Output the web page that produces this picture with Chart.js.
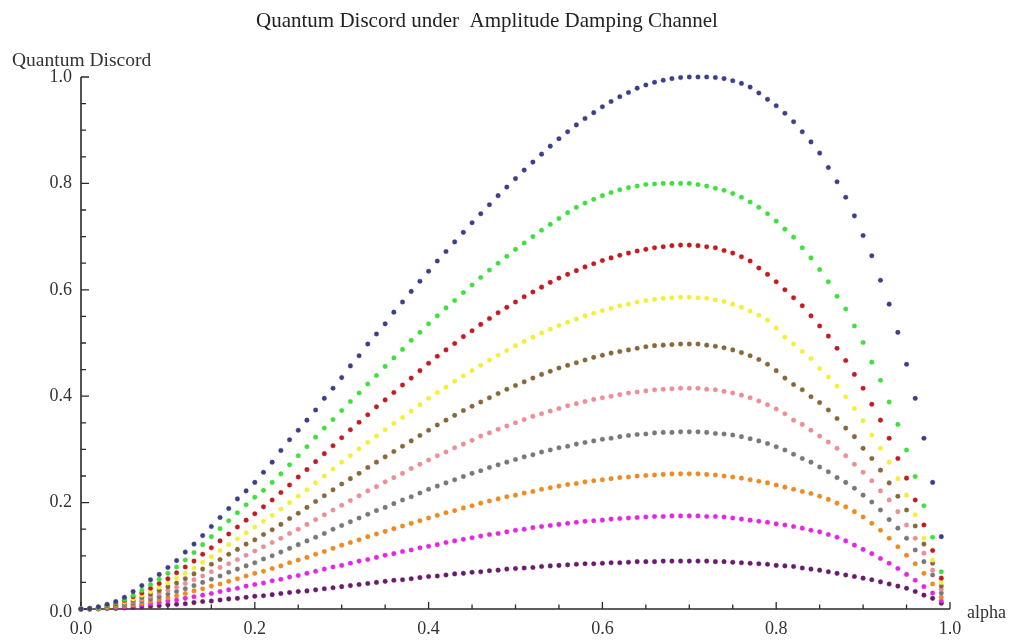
<!DOCTYPE html>
<html>
<head>
<meta charset="utf-8">
<title>Quantum Discord under Amplitude Damping Channel</title>
<script src="https://cdn.jsdelivr.net/npm/chart.js@4.4.0/dist/chart.umd.min.js"></script>
<style>
  body { margin: 0; background: #ffffff; }
  #wrap { width: 1012px; height: 640px; }
</style>
</head>
<body>
<div id="wrap"><canvas id="discordChart" width="1012" height="640"></canvas></div>
<script>
// alpha values (x) shared by every series
const alphas = [
  0.00, 0.01, 0.02, 0.03, 0.04, 0.05, 0.06, 0.07, 0.08, 0.09,
  0.10, 0.11, 0.12, 0.13, 0.14, 0.15, 0.16, 0.17, 0.18, 0.19,
  0.20, 0.21, 0.22, 0.23, 0.24, 0.25, 0.26, 0.27, 0.28, 0.29,
  0.30, 0.31, 0.32, 0.33, 0.34, 0.35, 0.36, 0.37, 0.38, 0.39,
  0.40, 0.41, 0.42, 0.43, 0.44, 0.45, 0.46, 0.47, 0.48, 0.49,
  0.50, 0.51, 0.52, 0.53, 0.54, 0.55, 0.56, 0.57, 0.58, 0.59,
  0.60, 0.61, 0.62, 0.63, 0.64, 0.65, 0.66, 0.67, 0.68, 0.69,
  0.70, 0.71, 0.72, 0.73, 0.74, 0.75, 0.76, 0.77, 0.78, 0.79,
  0.80, 0.81, 0.82, 0.83, 0.84, 0.85, 0.86, 0.87, 0.88, 0.89,
  0.90, 0.91, 0.92, 0.93, 0.94, 0.95, 0.96, 0.97, 0.98, 0.99
];

// discord values, one list per curve (top to bottom)
const blueVals = [
  0, 0.001, 0.004, 0.009, 0.014, 0.022, 0.033, 0.044, 0.055, 0.065,
  0.078, 0.091, 0.107, 0.122, 0.138, 0.155, 0.172, 0.189, 0.207, 0.222,
  0.238, 0.257, 0.276, 0.298, 0.318, 0.336, 0.355, 0.374, 0.396, 0.415,
  0.435, 0.457, 0.476, 0.498, 0.517, 0.536, 0.558, 0.577, 0.597, 0.616,
  0.635, 0.654, 0.672, 0.690, 0.708, 0.726, 0.743, 0.760, 0.777, 0.793,
  0.809, 0.825, 0.840, 0.855, 0.870, 0.884, 0.897, 0.910, 0.922, 0.933,
  0.944, 0.954, 0.963, 0.971, 0.979, 0.985, 0.990, 0.994, 0.997, 0.999,
  1.000, 1.000, 1.000, 0.999, 0.997, 0.993, 0.988, 0.981, 0.970, 0.958,
  0.946, 0.932, 0.916, 0.897, 0.878, 0.857, 0.830, 0.803, 0.774, 0.739,
  0.702, 0.664, 0.618, 0.573, 0.520, 0.460, 0.396, 0.321, 0.238, 0.136
];
const greenVals = [
  0, 0.001, 0.003, 0.007, 0.012, 0.018, 0.026, 0.035, 0.046, 0.056,
  0.067, 0.079, 0.092, 0.106, 0.121, 0.136, 0.151, 0.166, 0.181, 0.196,
  0.210, 0.223, 0.238, 0.254, 0.271, 0.288, 0.305, 0.323, 0.340, 0.356,
  0.373, 0.390, 0.406, 0.423, 0.439, 0.456, 0.472, 0.488, 0.505, 0.520,
  0.536, 0.551, 0.566, 0.580, 0.595, 0.609, 0.623, 0.637, 0.650, 0.663,
  0.676, 0.688, 0.700, 0.712, 0.723, 0.734, 0.745, 0.755, 0.763, 0.770,
  0.777, 0.783, 0.788, 0.792, 0.795, 0.798, 0.799, 0.800, 0.800, 0.800,
  0.800, 0.798, 0.795, 0.791, 0.787, 0.781, 0.774, 0.765, 0.755, 0.743,
  0.729, 0.714, 0.699, 0.679, 0.660, 0.638, 0.615, 0.588, 0.564, 0.532,
  0.501, 0.464, 0.430, 0.389, 0.347, 0.299, 0.249, 0.194, 0.135, 0.070
];
const redVals = [
  0, 0.001, 0.003, 0.006, 0.010, 0.016, 0.023, 0.030, 0.039, 0.048,
  0.057, 0.068, 0.079, 0.090, 0.103, 0.115, 0.128, 0.141, 0.154, 0.167,
  0.179, 0.192, 0.205, 0.219, 0.233, 0.248, 0.262, 0.277, 0.292, 0.307,
  0.322, 0.337, 0.351, 0.365, 0.380, 0.393, 0.407, 0.421, 0.434, 0.448,
  0.462, 0.475, 0.487, 0.499, 0.512, 0.523, 0.535, 0.546, 0.557, 0.567,
  0.577, 0.587, 0.596, 0.605, 0.614, 0.622, 0.629, 0.636, 0.643, 0.649,
  0.655, 0.660, 0.665, 0.669, 0.673, 0.676, 0.679, 0.681, 0.683, 0.684,
  0.684, 0.683, 0.681, 0.679, 0.674, 0.669, 0.662, 0.654, 0.641, 0.629,
  0.615, 0.600, 0.585, 0.570, 0.551, 0.532, 0.513, 0.490, 0.467, 0.441,
  0.415, 0.385, 0.355, 0.321, 0.283, 0.246, 0.205, 0.158, 0.110, 0.058
];
const yellowVals = [
  0, 0.001, 0.002, 0.005, 0.009, 0.013, 0.019, 0.026, 0.033, 0.041,
  0.049, 0.058, 0.067, 0.077, 0.088, 0.098, 0.110, 0.121, 0.132, 0.143,
  0.154, 0.165, 0.176, 0.188, 0.200, 0.212, 0.224, 0.237, 0.250, 0.263,
  0.276, 0.288, 0.301, 0.313, 0.325, 0.337, 0.349, 0.360, 0.372, 0.384,
  0.396, 0.407, 0.417, 0.428, 0.438, 0.448, 0.458, 0.468, 0.477, 0.486,
  0.495, 0.503, 0.511, 0.519, 0.526, 0.533, 0.539, 0.545, 0.551, 0.556,
  0.561, 0.565, 0.570, 0.573, 0.577, 0.580, 0.582, 0.584, 0.585, 0.586,
  0.586, 0.585, 0.584, 0.581, 0.578, 0.573, 0.567, 0.560, 0.552, 0.543,
  0.528, 0.511, 0.498, 0.484, 0.471, 0.452, 0.436, 0.419, 0.399, 0.377,
  0.354, 0.327, 0.302, 0.276, 0.245, 0.214, 0.177, 0.133, 0.092, 0.050
];
const brownVals = [
  0, 0.000, 0.002, 0.004, 0.007, 0.011, 0.016, 0.022, 0.028, 0.035,
  0.042, 0.049, 0.057, 0.066, 0.075, 0.084, 0.093, 0.103, 0.112, 0.122,
  0.130, 0.140, 0.149, 0.159, 0.170, 0.180, 0.191, 0.202, 0.213, 0.224,
  0.235, 0.245, 0.255, 0.266, 0.276, 0.286, 0.296, 0.306, 0.316, 0.326,
  0.336, 0.346, 0.355, 0.364, 0.373, 0.381, 0.389, 0.397, 0.405, 0.413,
  0.420, 0.427, 0.434, 0.441, 0.447, 0.453, 0.458, 0.463, 0.468, 0.473,
  0.477, 0.481, 0.484, 0.487, 0.490, 0.493, 0.495, 0.496, 0.497, 0.498,
  0.498, 0.498, 0.496, 0.494, 0.491, 0.487, 0.482, 0.476, 0.469, 0.460,
  0.448, 0.434, 0.422, 0.412, 0.399, 0.388, 0.374, 0.358, 0.340, 0.324,
  0.302, 0.283, 0.261, 0.237, 0.212, 0.186, 0.156, 0.122, 0.086, 0.043
];
const pinkVals = [
  0, 0.000, 0.002, 0.004, 0.006, 0.010, 0.014, 0.018, 0.024, 0.029,
  0.035, 0.041, 0.048, 0.055, 0.062, 0.070, 0.078, 0.085, 0.093, 0.101,
  0.109, 0.117, 0.125, 0.133, 0.142, 0.150, 0.159, 0.168, 0.177, 0.186,
  0.195, 0.204, 0.213, 0.222, 0.230, 0.239, 0.247, 0.255, 0.264, 0.272,
  0.280, 0.288, 0.295, 0.303, 0.310, 0.317, 0.325, 0.331, 0.338, 0.344,
  0.350, 0.356, 0.362, 0.367, 0.372, 0.377, 0.382, 0.386, 0.390, 0.394,
  0.397, 0.400, 0.403, 0.406, 0.408, 0.410, 0.412, 0.413, 0.414, 0.415,
  0.415, 0.415, 0.413, 0.412, 0.409, 0.406, 0.402, 0.397, 0.391, 0.384,
  0.376, 0.367, 0.355, 0.347, 0.336, 0.325, 0.314, 0.302, 0.288, 0.272,
  0.257, 0.241, 0.222, 0.205, 0.183, 0.158, 0.133, 0.105, 0.073, 0.037
];
const grayVals = [
  0, 0.000, 0.001, 0.003, 0.005, 0.008, 0.011, 0.015, 0.019, 0.023,
  0.028, 0.033, 0.038, 0.044, 0.050, 0.056, 0.062, 0.069, 0.075, 0.081,
  0.087, 0.094, 0.100, 0.107, 0.114, 0.121, 0.128, 0.135, 0.142, 0.150,
  0.157, 0.164, 0.171, 0.178, 0.185, 0.191, 0.198, 0.205, 0.211, 0.218,
  0.225, 0.231, 0.237, 0.243, 0.249, 0.255, 0.260, 0.266, 0.271, 0.276,
  0.281, 0.286, 0.290, 0.295, 0.299, 0.303, 0.306, 0.310, 0.313, 0.316,
  0.319, 0.321, 0.324, 0.326, 0.328, 0.329, 0.331, 0.332, 0.332, 0.333,
  0.333, 0.333, 0.332, 0.330, 0.329, 0.327, 0.324, 0.320, 0.316, 0.311,
  0.305, 0.299, 0.291, 0.283, 0.276, 0.267, 0.258, 0.247, 0.238, 0.227,
  0.214, 0.201, 0.186, 0.168, 0.152, 0.133, 0.111, 0.089, 0.064, 0.030
];
const orangeVals = [
  0, 0.000, 0.001, 0.002, 0.004, 0.006, 0.008, 0.011, 0.014, 0.018,
  0.021, 0.025, 0.029, 0.034, 0.038, 0.043, 0.047, 0.052, 0.057, 0.062,
  0.067, 0.071, 0.076, 0.081, 0.087, 0.092, 0.097, 0.103, 0.108, 0.114,
  0.120, 0.125, 0.130, 0.136, 0.141, 0.146, 0.151, 0.156, 0.161, 0.166,
  0.171, 0.176, 0.181, 0.185, 0.190, 0.194, 0.199, 0.203, 0.207, 0.211,
  0.214, 0.218, 0.221, 0.225, 0.228, 0.231, 0.234, 0.236, 0.239, 0.241,
  0.243, 0.245, 0.247, 0.248, 0.250, 0.251, 0.252, 0.253, 0.254, 0.254,
  0.254, 0.254, 0.253, 0.252, 0.250, 0.248, 0.246, 0.243, 0.240, 0.237,
  0.233, 0.229, 0.225, 0.221, 0.217, 0.212, 0.206, 0.199, 0.192, 0.183,
  0.173, 0.161, 0.148, 0.133, 0.117, 0.101, 0.085, 0.067, 0.047, 0.022
];
const magentaVals = [
  0, 0.000, 0.001, 0.002, 0.003, 0.004, 0.006, 0.008, 0.010, 0.012,
  0.015, 0.017, 0.020, 0.023, 0.026, 0.029, 0.033, 0.036, 0.039, 0.043,
  0.046, 0.049, 0.053, 0.056, 0.060, 0.063, 0.067, 0.071, 0.075, 0.079,
  0.082, 0.086, 0.090, 0.093, 0.097, 0.101, 0.104, 0.108, 0.111, 0.115,
  0.118, 0.121, 0.125, 0.128, 0.131, 0.134, 0.137, 0.140, 0.142, 0.145,
  0.148, 0.150, 0.153, 0.155, 0.157, 0.159, 0.161, 0.163, 0.165, 0.166,
  0.167, 0.169, 0.170, 0.171, 0.172, 0.173, 0.174, 0.174, 0.175, 0.175,
  0.175, 0.175, 0.174, 0.174, 0.173, 0.171, 0.169, 0.167, 0.165, 0.163,
  0.160, 0.158, 0.155, 0.152, 0.148, 0.145, 0.140, 0.135, 0.128, 0.120,
  0.112, 0.104, 0.095, 0.086, 0.076, 0.065, 0.054, 0.042, 0.030, 0.015
];
const purpleVals = [
  0, 0.000, 0.000, 0.001, 0.001, 0.002, 0.003, 0.004, 0.005, 0.006,
  0.008, 0.009, 0.010, 0.012, 0.014, 0.015, 0.017, 0.019, 0.020, 0.022,
  0.024, 0.025, 0.027, 0.029, 0.031, 0.033, 0.034, 0.036, 0.038, 0.040,
  0.042, 0.044, 0.046, 0.048, 0.050, 0.052, 0.054, 0.055, 0.057, 0.059,
  0.061, 0.062, 0.064, 0.066, 0.067, 0.069, 0.070, 0.072, 0.073, 0.075,
  0.076, 0.077, 0.078, 0.080, 0.081, 0.082, 0.083, 0.084, 0.085, 0.085,
  0.086, 0.087, 0.087, 0.088, 0.089, 0.089, 0.089, 0.090, 0.090, 0.090,
  0.090, 0.090, 0.090, 0.089, 0.089, 0.088, 0.087, 0.086, 0.085, 0.084,
  0.082, 0.081, 0.080, 0.077, 0.075, 0.073, 0.070, 0.067, 0.064, 0.061,
  0.058, 0.055, 0.051, 0.047, 0.043, 0.039, 0.033, 0.026, 0.020, 0.011
];

const seriesValues = [blueVals, greenVals, redVals, yellowVals, brownVals,
  pinkVals, grayVals, orangeVals, magentaVals, purpleVals];
const seriesColors = ['#3d3f86', '#3ee03e', '#c41a22', '#f2ef3a', '#86683a',
  '#ec8e96', '#787878', '#ee8a22', '#e426e4', '#6a1c6a'];

// axis ticks
const xMajorTicks = [0.0, 0.2, 0.4, 0.6, 0.8, 1.0];
const yMajorTicks = [0.0, 0.2, 0.4, 0.6, 0.8, 1.0];
const minorTicks = [0.05, 0.1, 0.15, 0.25, 0.3, 0.35, 0.45, 0.5, 0.55,
  0.65, 0.7, 0.75, 0.85, 0.9, 0.95];

const titleText = 'Quantum Discord under  Amplitude Damping Channel';
const yAxisLabel = 'Quantum Discord';
const xAxisLabel = 'alpha';

// Draws Mathematica-style axes: inward ticks, serif labels
const axesPlugin = {
  id: 'mathAxes',
  beforeDatasetsDraw(chart) {
    const ctx = chart.ctx;
    const xs = chart.scales.x;
    const ys = chart.scales.y;
    const x0 = xs.getPixelForValue(0);
    const x1 = xs.getPixelForValue(1);
    const y0 = ys.getPixelForValue(0);
    const y1 = ys.getPixelForValue(1);

    ctx.save();
    ctx.strokeStyle = '#2a2a2a';
    ctx.lineWidth = 1.6;
    ctx.beginPath();
    ctx.moveTo(x0, y0);
    ctx.lineTo(x1, y0);
    ctx.moveTo(x0, y0);
    ctx.lineTo(x0, y1);
    ctx.stroke();

    ctx.lineWidth = 1.3;
    ctx.beginPath();
    xMajorTicks.forEach((v) => {
      const px = xs.getPixelForValue(v);
      ctx.moveTo(px, y0);
      ctx.lineTo(px, y0 - 7);
    });
    minorTicks.forEach((v) => {
      const px = xs.getPixelForValue(v);
      ctx.moveTo(px, y0);
      ctx.lineTo(px, y0 - 4.5);
    });
    yMajorTicks.forEach((v) => {
      const py = ys.getPixelForValue(v);
      ctx.moveTo(x0, py);
      ctx.lineTo(x0 + 8, py);
    });
    minorTicks.forEach((v) => {
      const py = ys.getPixelForValue(v);
      ctx.moveTo(x0, py);
      ctx.lineTo(x0 + 5, py);
    });
    ctx.stroke();

    // tick labels
    ctx.fillStyle = '#333333';
    ctx.font = '18px "Liberation Serif", "Times New Roman", serif';
    ctx.textAlign = 'center';
    ctx.textBaseline = 'middle';
    xMajorTicks.forEach((v) => {
      ctx.fillText(v.toFixed(1), xs.getPixelForValue(v), y0 + 20);
    });
    ctx.textAlign = 'right';
    yMajorTicks.forEach((v) => {
      const py = ys.getPixelForValue(v);
      ctx.fillText(v.toFixed(1), x0 - 9, v === 0 ? py + 3 : py);
    });

    // axis labels
    ctx.textAlign = 'left';
    ctx.fillText(xAxisLabel, x1 + 17, y0 + 4);
    ctx.font = '19.5px "Liberation Serif", "Times New Roman", serif';
    ctx.textBaseline = 'alphabetic';
    ctx.fillText(yAxisLabel, 12, 66);

    // title
    ctx.fillStyle = '#222222';
    ctx.font = '21px "Liberation Serif", "Times New Roman", serif';
    ctx.textAlign = 'center';
    ctx.fillText(titleText, 487, 27);
    ctx.restore();
  }
};

const datasets = seriesValues.map((vals, i) => ({
  label: 'series ' + (i + 1),
  data: alphas.map((a, k) => ({ x: a, y: vals[k] })),
  backgroundColor: seriesColors[i],
  borderColor: seriesColors[i] + '55',
  borderWidth: 1,
  pointRadius: 2.3,
  pointHoverRadius: 2.3,
  showLine: false,
}));

new Chart(document.getElementById('discordChart'), {
  type: 'scatter',
  data: { datasets: datasets },
  options: {
    responsive: false,
    animation: false,
    clip: false,
    layout: {
      padding: { left: 81, right: 62, top: 77, bottom: 31 },
    },
    scales: {
      x: { type: 'linear', min: 0, max: 1, display: false },
      y: { type: 'linear', min: 0, max: 1, display: false },
    },
    plugins: {
      legend: { display: false },
      title: { display: false },
      tooltip: { enabled: false },
    },
  },
  plugins: [axesPlugin],
});
</script>
</body>
</html>
